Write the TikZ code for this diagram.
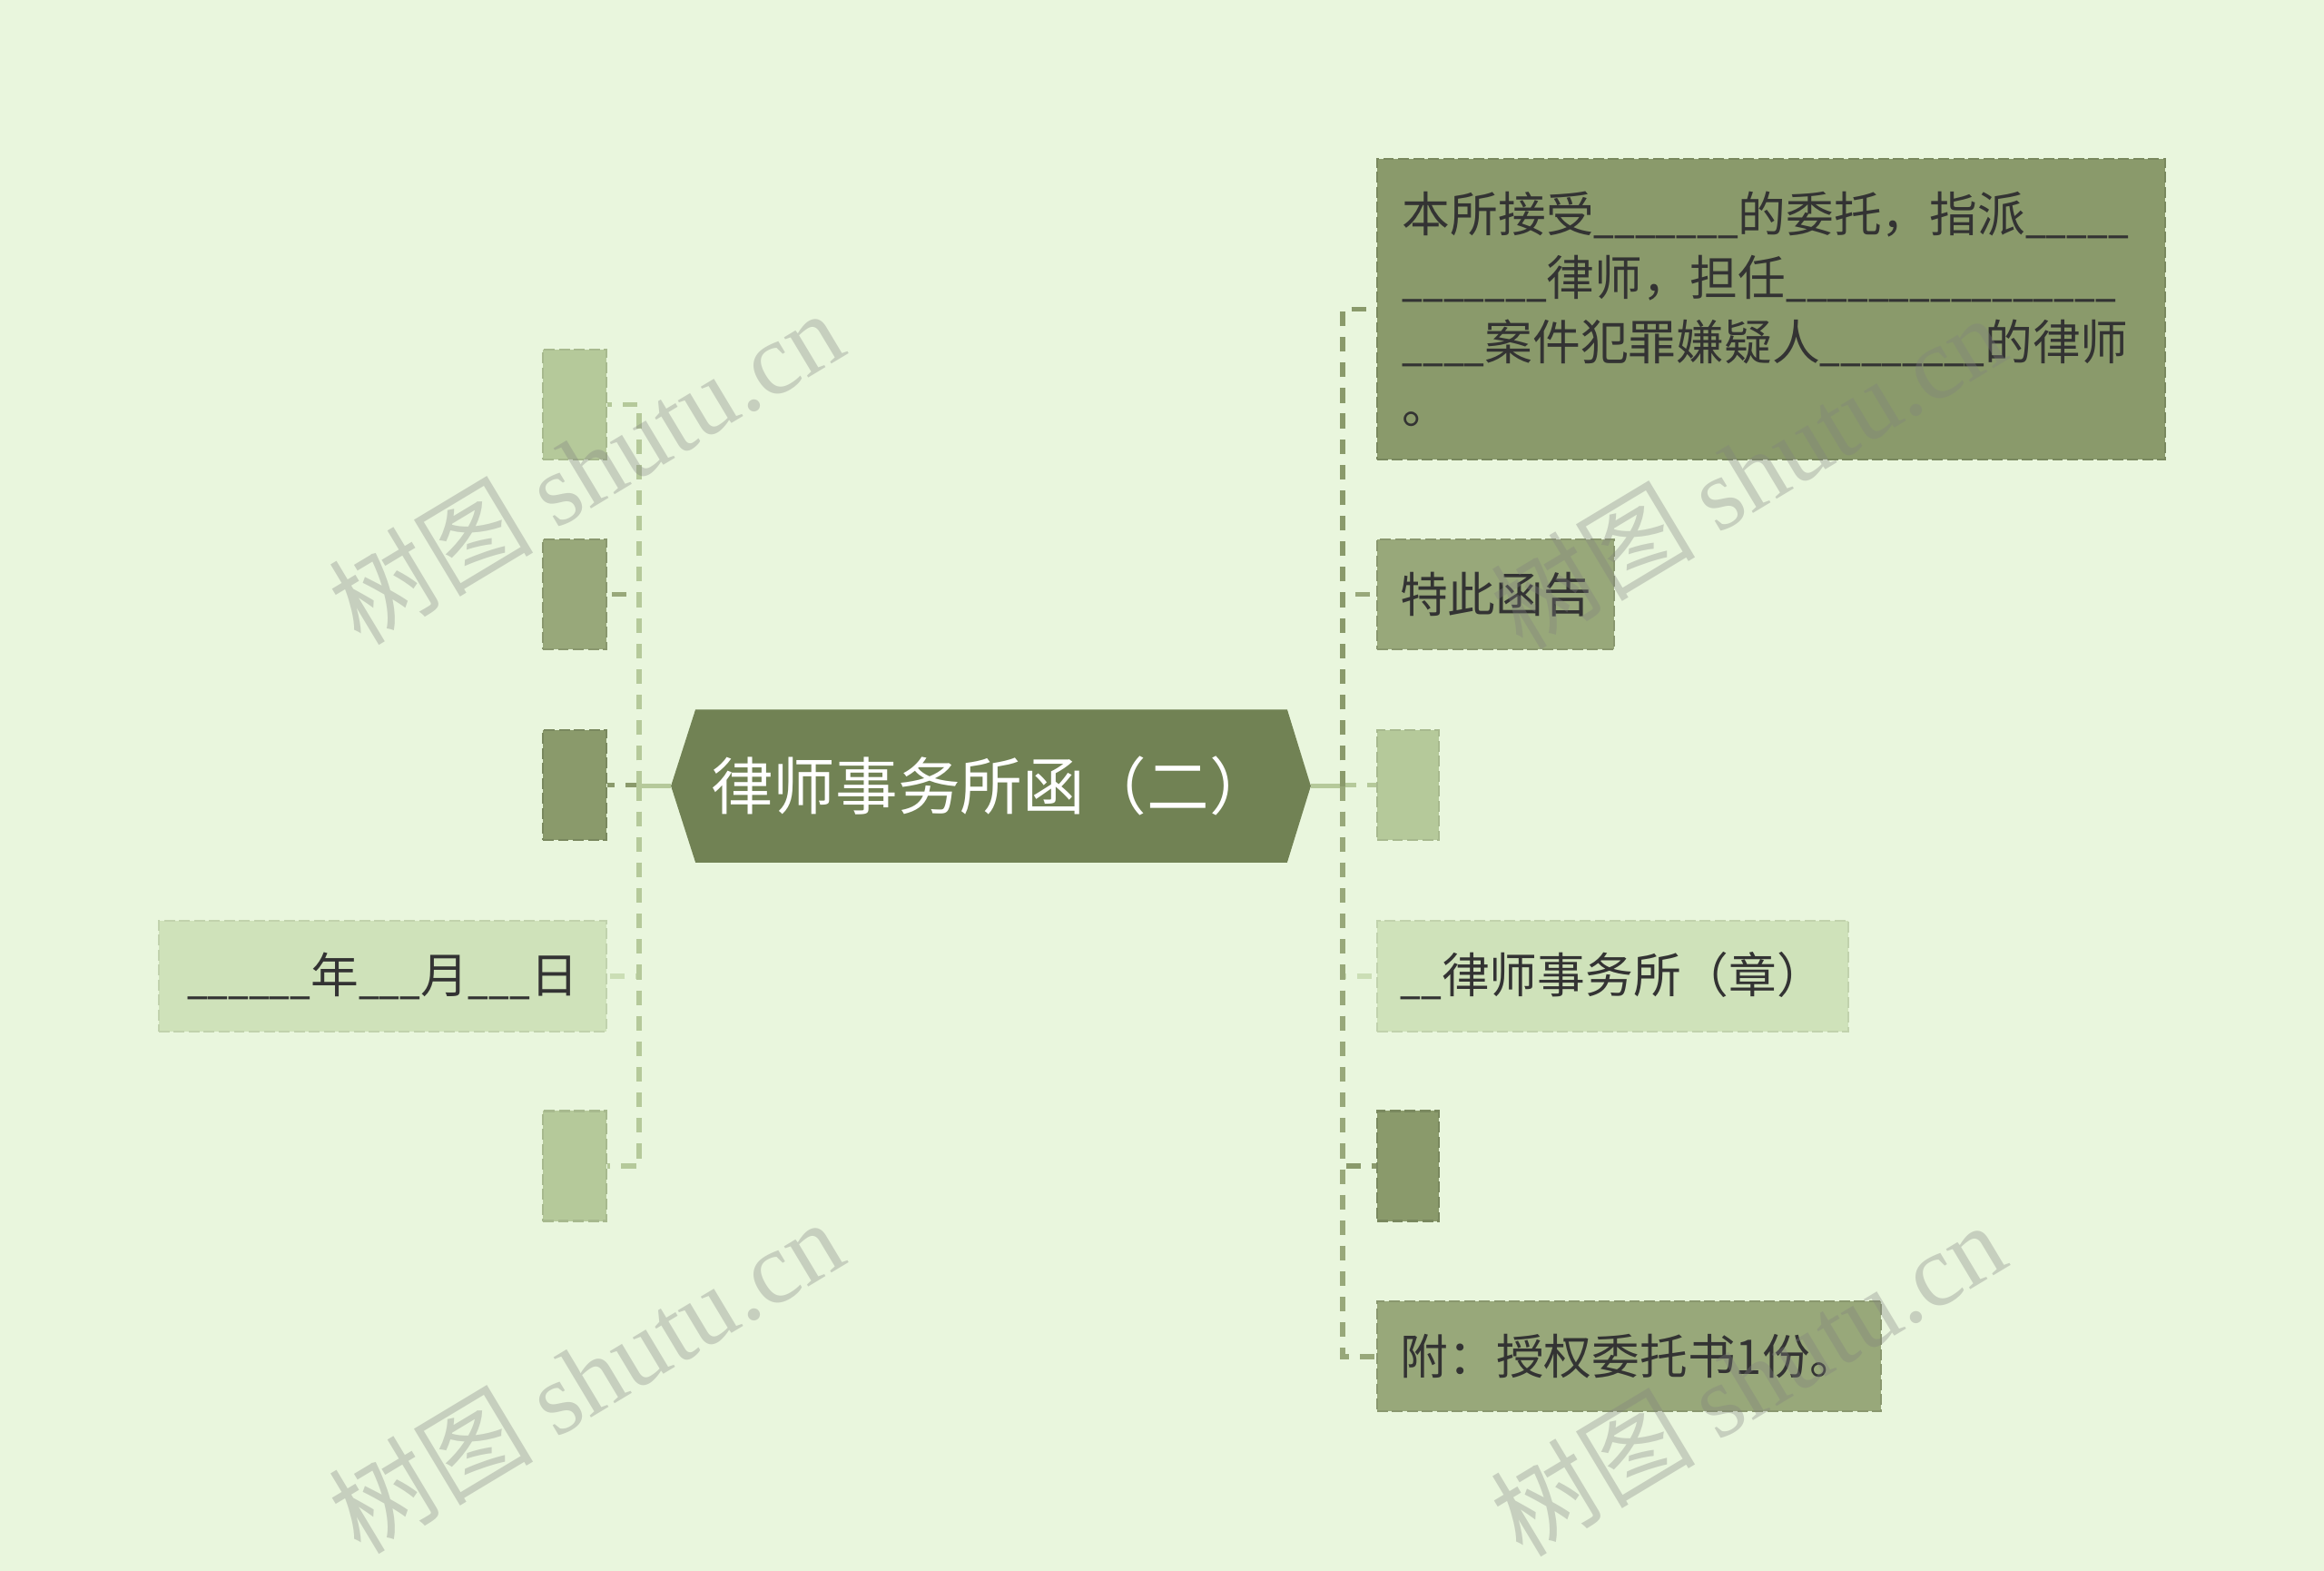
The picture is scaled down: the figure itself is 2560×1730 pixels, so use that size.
\documentclass[tikz,border=0pt]{standalone}
\usepackage{fontspec}
\setmainfont{Noto Sans CJK SC}
\newfontfamily\wmfont{Liberation Serif}
\usetikzlibrary{calc}
\definecolor{bgc}{HTML}{E9F6DD}
\definecolor{cenc}{HTML}{718254}
\definecolor{darkc}{HTML}{8A9A6B}
\definecolor{medc}{HTML}{98A87A}
\definecolor{lightc}{HTML}{B5C99A}
\definecolor{palec}{HTML}{CFE2BA}
\definecolor{txtc}{HTML}{333333}
\definecolor{wmc}{HTML}{808080}
\newcommand\us{\scalebox{0.77}[1]{\_}}
\tikzset{
  box/.style={rectangle, inner sep=0pt, line width=0.6pt, dash pattern=on 3.4pt off 1.3pt,
    font=\fontsize{15}{20}\selectfont, text=txtc},
  bdark/.style={box, fill=darkc, draw=darkc!88!black},
  bmed/.style={box, fill=medc, draw=medc!90!black},
  blight/.style={box, fill=lightc, draw=lightc!92!black},
  bpale/.style={box, fill=palec, draw=palec!93!black},
  conn/.style={line width=1.7pt, dash pattern=on 4.6pt off 3.4pt},
  trunk/.style={line width=1.7pt, lightc},
  wm/.style={text=wmc, opacity=0.33, rotate=31, font=\fontsize{32}{32}\selectfont},
}
\begin{document}
\begin{tikzpicture}[x=0.01cm,y=-0.01cm]
\fill[bgc] (0,0) rectangle (2560,1730);
\useasboundingbox (0,0) rectangle (2560,1730);

% central node
\node[inner sep=0pt, minimum width=6.5cm, minimum height=1.67cm] (c) at (1092,865.5) {};
\coordinate (cw) at ($(c.west)+(-27,0)$);
\coordinate (ce) at ($(c.east)+(26,0)$);
\fill[cenc] (c.north west) -- (c.north east) -- (ce) -- (c.south east) -- (c.south west) -- (cw) -- cycle;
\node[font=\fontsize{19.5}{19.5}\selectfont, text=white, inner sep=0pt] (ct) at (c.center) {律师事务所函（二）};

% left boxes
\node[blight, minimum width=0.70cm, minimum height=1.21cm] (L1) at (633,445.5) {};
\node[bmed,   minimum width=0.70cm, minimum height=1.21cm] (L2) at (633,654.5) {};
\node[bdark,  minimum width=0.70cm, minimum height=1.21cm] (L3) at (633,864.5) {};
\node[bpale,  minimum width=4.93cm, minimum height=1.22cm] (L4) at (421.5,1075) {\us\us\us\us\us\us 年\us\us\us 月\us\us\us 日};
\node[blight, minimum width=0.70cm, minimum height=1.21cm] (L5) at (633,1284) {};

% right boxes
\node[bdark, minimum width=8.68cm, minimum height=3.31cm, text width=8.12cm, align=left] (R1) at (1951,340.5)
  {本所接受\us\us\us\us\us\us\us 的委托，指派\us\us\us\us\us\\
   \us\us\us\us\us\us\us 律师，担任\us\us\us\us\us\us\us\us\us\us\us\us\us\us\us\us\\
   \us\us\us\us 案件犯罪嫌疑人\us\us\us\us\us\us\us\us 的律师\\
   。};
\node[bmed,   minimum width=2.61cm, minimum height=1.21cm] (R2) at (1647.5,654.5) {特此函告};
\node[blight, minimum width=0.68cm, minimum height=1.21cm] (R3) at (1551,864.5) {};
\node[bpale,  minimum width=5.19cm, minimum height=1.22cm] (R4) at (1776.5,1075) {\us\us 律师事务所（章）};
\node[bdark,  minimum width=0.68cm, minimum height=1.21cm] (R5) at (1551,1284) {};
\node[bmed,   minimum width=5.55cm, minimum height=1.21cm] (R6) at (1794.5,1493.5) {附：授权委托书1份。};

% connectors
\coordinate (sl) at (704,865.5);
\coordinate (sr) at (1479,865.5);
\draw[trunk] (cw) -- (sl);
\draw[trunk] (ce) -- (sr);

\draw[conn, darkc]  (sl) |- (L3.east);
\draw[conn, medc]   (sl) |- (L2.east);
\draw[conn, palec!85!lightc] (sl) |- (L4.east);
\draw[conn, lightc] (sl) |- (L5.east);
\draw[conn, lightc] (sl) |- (L1.east);

\draw[conn, lightc] (sr) |- (R3.west);
\draw[conn, palec!85!lightc] (sr) |- (R4.west);
\draw[conn, medc]   (sr) |- (R2.west);
\draw[conn, darkc]  (sr) |- (R5.west);
\draw[conn, darkc]  (sr) |- (R1.west);
\draw[conn, medc]   (sr) |- (R6.west);

% watermarks
\node[wm] (w1) at (645,514) {树图 {\wmfont shutu.cn}};
\node[wm] (w2) at (645,1515) {树图 {\wmfont shutu.cn}};
\node[wm] (w3) at (1925,519) {树图 {\wmfont shutu.cn}};
\node[wm] (w4) at (1925,1518) {树图 {\wmfont shutu.cn}};
\end{tikzpicture}
\end{document}
